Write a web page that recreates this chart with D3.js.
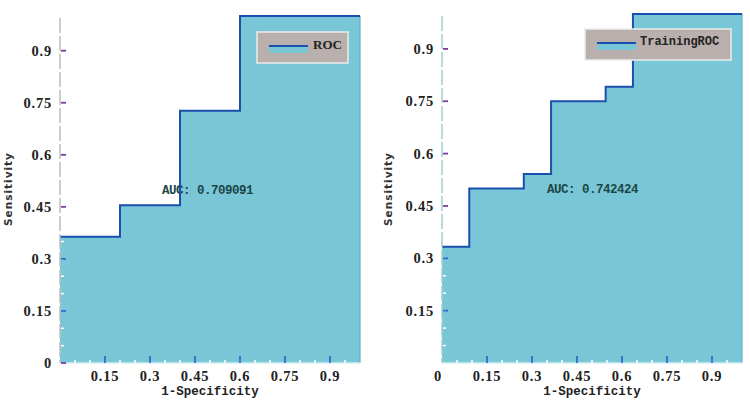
<!DOCTYPE html>
<html>
<head>
<meta charset="utf-8">
<script src="https://cdn.jsdelivr.net/npm/d3@7"></script>
<style>
  html, body { margin: 0; padding: 0; background: #fff; }
  svg { display: block; }
</style>
</head>
<body>
<svg id="chart" width="750" height="403"></svg>
<script>
// validation ROC (left) - false positive rate / true positive rate at each step
var rocFpr = [0, 0.2, 0.4, 0.6, 1];
var rocTpr = [0.3636, 0.4545, 0.7273, 1, 1];
var rocAuc = "0.709091";

// training ROC (right)
var trainFpr = [0, 0.0909, 0.2727, 0.3636, 0.5455, 0.6364, 1];
var trainTpr = [0.3333, 0.5, 0.5417, 0.75, 0.7917, 1, 1];
var trainAuc = "0.742424";

var yTicks = [0.15, 0.3, 0.45, 0.6, 0.75, 0.9];
var xTicks = [0.15, 0.3, 0.45, 0.6, 0.75, 0.9];

var FILL = '#79c6d7', LINE = '#1b4fae';
var svg = d3.select('#chart');

function drawRoc(o){
    var x = d3.scaleLinear().domain([0, 1]).range([o.left, o.right]);
    var y = d3.scaleLinear().domain([0, 1]).range([o.bottom, o.top]);
    var pts = o.fpr.map(function(f, i){ return [f, o.tpr[i]]; });
    var g = svg.append('g');

    var area = d3.area()
        .x(function(d){ return x(d[0]); })
        .y0(y(0))
        .y1(function(d){ return y(d[1]); })
        .curve(d3.curveStepAfter);

    g.append('path').datum(pts)
        .attr('d', area)
        .attr('fill', FILL);

    // AUC text over the fill, under the step line
    g.append('text')
        .attr('x', o.aucX).attr('y', o.aucY)
        .attr('dy', '0.35em')
        .style('font-family', '"Liberation Mono", "DejaVu Sans Mono", monospace')
        .style('font-weight', 'bold')
        .style('font-size', '12.5px')
        .style('letter-spacing', '-0.5px')
        .style('fill', '#1c4646')
        .text('AUC: ' + o.auc);

    // right edge of the area
    g.append('line')
        .attr('x1', x(1)).attr('x2', x(1))
        .attr('y1', y(1)).attr('y2', y(0))
        .attr('stroke', '#5fb3cb').attr('stroke-width', 1.2);

    var line = d3.line()
        .x(function(d){ return x(d[0]); })
        .y(function(d){ return y(d[1]); })
        .curve(d3.curveStepAfter);

    g.append('path').datum(pts)
        .attr('d', line)
        .attr('fill', 'none')
        .attr('stroke', LINE)
        .attr('stroke-width', 2);

    // y axis: dashed line
    g.append('line')
        .attr('x1', x(0)).attr('x2', x(0))
        .attr('y1', y(1) + 2).attr('y2', y(0))
        .attr('stroke', o.axisColor).attr('stroke-width', 1.5)
        .attr('stroke-dasharray', '15,3');

    // x axis base line
    g.append('line')
        .attr('x1', x(0)).attr('x2', x(1))
        .attr('y1', y(0)).attr('y2', y(0))
        .attr('stroke', '#d6eef3').attr('stroke-width', 1.5);

    // minor ticks (white, every 0.05)
    var minor = d3.range(1, 20).map(function(i){ return i * 0.05; });
    g.selectAll('.ymin').data(minor).enter().append('line')
        .attr('x1', x(0) + 1).attr('x2', x(0) + 4)
        .attr('y1', function(d){ return y(d); }).attr('y2', function(d){ return y(d); })
        .attr('stroke', '#fff').attr('stroke-width', 1.5);
    g.selectAll('.xmin').data(minor).enter().append('line')
        .attr('x1', function(d){ return x(d); }).attr('x2', function(d){ return x(d); })
        .attr('y1', y(0) - 3).attr('y2', y(0))
        .attr('stroke', '#fff').attr('stroke-width', 1.5);

    // y major ticks
    var yt = o.yZero ? [0].concat(yTicks) : yTicks;
    g.selectAll('.ytick').data(yt).enter().append('line')
        .attr('x1', x(0) + 1).attr('x2', x(0) + 6)
        .attr('y1', function(d){ return y(d); }).attr('y2', function(d){ return y(d); })
        .attr('stroke', function(d){ return (d >= 0.45 || d === 0) ? '#7d3c9c' : '#2d6cc8'; })
        .attr('stroke-width', 1.8);

    g.selectAll('.ylab').data(yt).enter().append('text')
        .attr('x', x(0) - 8)
        .attr('y', function(d){ return y(d); })
        .attr('dy', '0.35em')
        .attr('text-anchor', 'end')
        .style('font-family', '"Liberation Serif", "DejaVu Serif", serif')
        .style('font-weight', 'bold')
        .style('font-size', '14.5px')
        .style('letter-spacing', '0.8px')
        .style('fill', '#222')
        .text(function(d){ return d; });

    // x major ticks
    g.selectAll('.xtick').data(xTicks).enter().append('line')
        .attr('x1', function(d){ return x(d); }).attr('x2', function(d){ return x(d); })
        .attr('y1', y(0)).attr('y2', y(0) - 7)
        .attr('stroke', '#2d6cc8').attr('stroke-width', 1.8);

    var xl = o.xZero ? [0].concat(xTicks) : xTicks;
    g.selectAll('.xlab').data(xl).enter().append('text')
        .attr('x', function(d){ return x(d) + (d === 0 ? -4 : 0); })
        .attr('y', y(0) + 13)
        .attr('dy', '0.35em')
        .attr('text-anchor', 'middle')
        .style('font-family', '"Liberation Serif", "DejaVu Serif", serif')
        .style('font-weight', 'bold')
        .style('font-size', '14.5px')
        .style('letter-spacing', '0.8px')
        .style('fill', '#222')
        .text(function(d){ return d; });

    // axis titles
    g.append('text')
        .attr('x', (o.left + o.right) / 2).attr('y', 391)
        .attr('dy', '0.35em')
        .attr('text-anchor', 'middle')
        .style('font-family', '"Liberation Mono", "DejaVu Sans Mono", monospace')
        .style('font-weight', 'bold')
        .style('font-size', '12.5px')
        .style('fill', '#222')
        .text('1-Specificity');

    g.append('text')
        .attr('transform', 'translate(' + o.yTitleX + ',189) rotate(-90)')
        .attr('dy', '0.35em')
        .attr('text-anchor', 'middle')
        .style('font-family', '"DejaVu Sans", sans-serif')
        .style('font-weight', 'bold')
        .style('font-size', '10.5px')
        .style('letter-spacing', '1px')
        .style('fill', '#333')
        .text('Sensitivity');

    // legend
    var L = o.legend;
    g.append('rect')
        .attr('x', L.x).attr('y', L.y).attr('width', L.w).attr('height', L.h)
        .attr('fill', '#b9afac')
        .attr('stroke', '#ececec').attr('stroke-width', 1.5);
    g.append('rect')
        .attr('x', L.x + 12).attr('y', L.y + 15).attr('width', 39).attr('height', 6)
        .attr('rx', 2)
        .attr('fill', FILL);
    g.append('line')
        .attr('x1', L.x + 12).attr('x2', L.x + 51)
        .attr('y1', L.y + 14).attr('y2', L.y + 14)
        .attr('stroke', LINE).attr('stroke-width', 2);
    g.append('text')
        .attr('x', L.x + L.tx).attr('y', L.y + 12)
        .attr('dy', '0.35em')
        .style('font-family', L.font)
        .style('font-weight', 'bold')
        .style('font-size', L.size)
        .style('fill', '#222')
        .text(L.label);
}

drawRoc({
    fpr: rocFpr, tpr: rocTpr, auc: rocAuc,
    left: 60, right: 360, top: 16, bottom: 363,
    axisColor: '#bdbdbd', yZero: true, xZero: false,
    aucX: 162, aucY: 190, yTitleX: 8,
    legend: { x: 257, y: 32, w: 91, h: 31, tx: 56, label: 'ROC',
              font: '"Liberation Serif", "DejaVu Serif", serif', size: '13px' }
});

drawRoc({
    fpr: trainFpr, tpr: trainTpr, auc: trainAuc,
    left: 442, right: 742, top: 14, bottom: 363,
    axisColor: '#9fcfcc', yZero: false, xZero: true,
    aucX: 547, aucY: 189, yTitleX: 388,
    legend: { x: 585, y: 29, w: 146, h: 31, tx: 55, label: 'TrainingROC',
              font: '"Liberation Mono", "DejaVu Sans Mono", monospace', size: '12px' }
});
</script>
</body>
</html>
